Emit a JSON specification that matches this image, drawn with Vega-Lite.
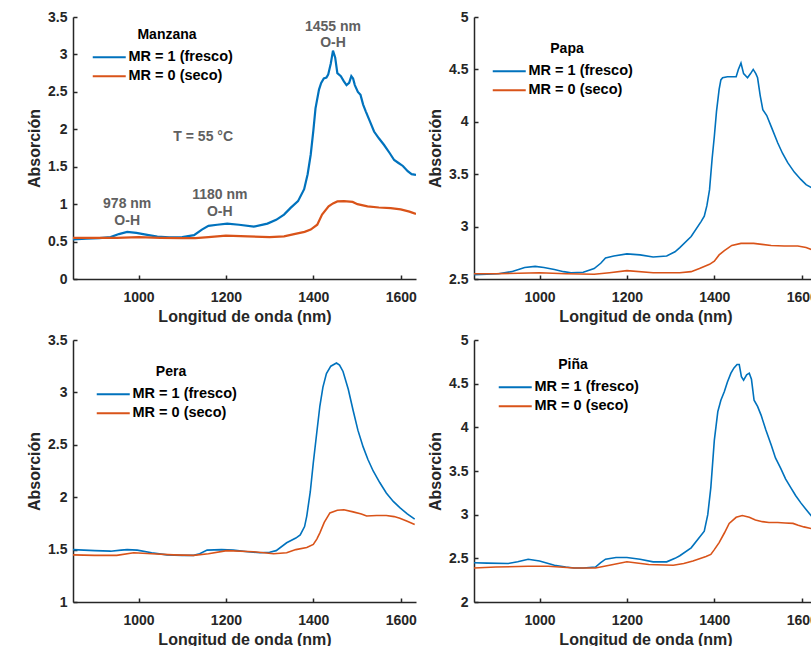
{
  "$schema": "https://vega.github.io/schema/vega-lite/v6.json",
  "background": "white",
  "padding": {"left": 26, "top": 10, "right": 0, "bottom": 0},
  "bounds": "flush",
  "spacing": {"row": 61, "column": 58},
  "columns": 2,
  "resolve": {"scale": {"color": "independent", "x": "independent", "y": "independent"}, "legend": {"color": "independent"}},
  "config": {
    "font": "Liberation Sans",
    "view": {"stroke": null},
    "axis": {
      "grid": false, "labelOverlap": false,
      "labelFont": "Liberation Sans", "labelFontWeight": "bold", "labelFontSize": 14, "labelColor": "#262626",
      "titleFont": "Liberation Sans", "titleFontWeight": "bold", "titleFontSize": 16, "titleColor": "#262626",
      "domainColor": "#262626", "domainWidth": 1.5,
      "tickColor": "#262626", "tickWidth": 1.5, "tickSize": -4
    },
    "axisX": {"labelPadding": 15, "titlePadding": 4},
    "axisY": {"labelPadding": 10, "titlePadding": 5},
    "legend": {
      "labelFont": "Liberation Sans", "labelFontWeight": "bold", "labelFontSize": 14.5, "labelColor": "#000000",
      "titleFont": "Liberation Sans", "titleFontWeight": "bold", "titleFontSize": 14, "titleColor": "#000000",
      "symbolType": "M-3,0H3", "symbolSize": 121, "symbolStrokeWidth": 2, "labelOffset": 12,
      "titleAnchor": "middle", "titleAlign": "center", "rowPadding": 4, "titlePadding": 8, "padding": 0
    }
  },
  "datasets": {
    "spectra": [
      {"fruta":"Manzana","serie":"MR = 1 (fresco)","nm":850,"abs":0.53},
      {"fruta":"Manzana","serie":"MR = 1 (fresco)","nm":880,"abs":0.54},
      {"fruta":"Manzana","serie":"MR = 1 (fresco)","nm":910,"abs":0.545},
      {"fruta":"Manzana","serie":"MR = 1 (fresco)","nm":936,"abs":0.56},
      {"fruta":"Manzana","serie":"MR = 1 (fresco)","nm":955,"abs":0.6},
      {"fruta":"Manzana","serie":"MR = 1 (fresco)","nm":974,"abs":0.63},
      {"fruta":"Manzana","serie":"MR = 1 (fresco)","nm":995,"abs":0.615},
      {"fruta":"Manzana","serie":"MR = 1 (fresco)","nm":1020,"abs":0.59},
      {"fruta":"Manzana","serie":"MR = 1 (fresco)","nm":1043,"abs":0.565},
      {"fruta":"Manzana","serie":"MR = 1 (fresco)","nm":1070,"abs":0.555},
      {"fruta":"Manzana","serie":"MR = 1 (fresco)","nm":1100,"abs":0.56},
      {"fruta":"Manzana","serie":"MR = 1 (fresco)","nm":1127,"abs":0.585},
      {"fruta":"Manzana","serie":"MR = 1 (fresco)","nm":1145,"abs":0.66},
      {"fruta":"Manzana","serie":"MR = 1 (fresco)","nm":1160,"abs":0.71},
      {"fruta":"Manzana","serie":"MR = 1 (fresco)","nm":1180,"abs":0.725},
      {"fruta":"Manzana","serie":"MR = 1 (fresco)","nm":1203,"abs":0.74},
      {"fruta":"Manzana","serie":"MR = 1 (fresco)","nm":1230,"abs":0.725},
      {"fruta":"Manzana","serie":"MR = 1 (fresco)","nm":1264,"abs":0.70},
      {"fruta":"Manzana","serie":"MR = 1 (fresco)","nm":1295,"abs":0.74},
      {"fruta":"Manzana","serie":"MR = 1 (fresco)","nm":1315,"abs":0.79},
      {"fruta":"Manzana","serie":"MR = 1 (fresco)","nm":1333,"abs":0.86},
      {"fruta":"Manzana","serie":"MR = 1 (fresco)","nm":1348,"abs":0.95},
      {"fruta":"Manzana","serie":"MR = 1 (fresco)","nm":1365,"abs":1.04},
      {"fruta":"Manzana","serie":"MR = 1 (fresco)","nm":1379,"abs":1.2},
      {"fruta":"Manzana","serie":"MR = 1 (fresco)","nm":1387,"abs":1.4},
      {"fruta":"Manzana","serie":"MR = 1 (fresco)","nm":1394,"abs":1.66},
      {"fruta":"Manzana","serie":"MR = 1 (fresco)","nm":1400,"abs":1.98},
      {"fruta":"Manzana","serie":"MR = 1 (fresco)","nm":1405,"abs":2.28},
      {"fruta":"Manzana","serie":"MR = 1 (fresco)","nm":1413,"abs":2.53},
      {"fruta":"Manzana","serie":"MR = 1 (fresco)","nm":1418,"abs":2.62},
      {"fruta":"Manzana","serie":"MR = 1 (fresco)","nm":1424,"abs":2.68},
      {"fruta":"Manzana","serie":"MR = 1 (fresco)","nm":1430,"abs":2.69},
      {"fruta":"Manzana","serie":"MR = 1 (fresco)","nm":1434,"abs":2.73},
      {"fruta":"Manzana","serie":"MR = 1 (fresco)","nm":1440,"abs":2.88},
      {"fruta":"Manzana","serie":"MR = 1 (fresco)","nm":1445,"abs":3.05},
      {"fruta":"Manzana","serie":"MR = 1 (fresco)","nm":1450,"abs":2.96},
      {"fruta":"Manzana","serie":"MR = 1 (fresco)","nm":1455,"abs":2.75},
      {"fruta":"Manzana","serie":"MR = 1 (fresco)","nm":1463,"abs":2.71},
      {"fruta":"Manzana","serie":"MR = 1 (fresco)","nm":1470,"abs":2.64},
      {"fruta":"Manzana","serie":"MR = 1 (fresco)","nm":1476,"abs":2.59},
      {"fruta":"Manzana","serie":"MR = 1 (fresco)","nm":1482,"abs":2.62},
      {"fruta":"Manzana","serie":"MR = 1 (fresco)","nm":1487,"abs":2.71},
      {"fruta":"Manzana","serie":"MR = 1 (fresco)","nm":1491,"abs":2.68},
      {"fruta":"Manzana","serie":"MR = 1 (fresco)","nm":1495,"abs":2.59},
      {"fruta":"Manzana","serie":"MR = 1 (fresco)","nm":1502,"abs":2.5},
      {"fruta":"Manzana","serie":"MR = 1 (fresco)","nm":1508,"abs":2.46},
      {"fruta":"Manzana","serie":"MR = 1 (fresco)","nm":1514,"abs":2.33},
      {"fruta":"Manzana","serie":"MR = 1 (fresco)","nm":1520,"abs":2.24},
      {"fruta":"Manzana","serie":"MR = 1 (fresco)","nm":1530,"abs":2.1},
      {"fruta":"Manzana","serie":"MR = 1 (fresco)","nm":1539,"abs":1.97},
      {"fruta":"Manzana","serie":"MR = 1 (fresco)","nm":1550,"abs":1.88},
      {"fruta":"Manzana","serie":"MR = 1 (fresco)","nm":1562,"abs":1.79},
      {"fruta":"Manzana","serie":"MR = 1 (fresco)","nm":1575,"abs":1.68},
      {"fruta":"Manzana","serie":"MR = 1 (fresco)","nm":1585,"abs":1.59},
      {"fruta":"Manzana","serie":"MR = 1 (fresco)","nm":1595,"abs":1.55},
      {"fruta":"Manzana","serie":"MR = 1 (fresco)","nm":1605,"abs":1.51},
      {"fruta":"Manzana","serie":"MR = 1 (fresco)","nm":1616,"abs":1.44},
      {"fruta":"Manzana","serie":"MR = 1 (fresco)","nm":1625,"abs":1.40},
      {"fruta":"Manzana","serie":"MR = 1 (fresco)","nm":1635,"abs":1.39},
      {"fruta":"Manzana","serie":"MR = 0 (seco)","nm":850,"abs":0.55},
      {"fruta":"Manzana","serie":"MR = 0 (seco)","nm":900,"abs":0.55},
      {"fruta":"Manzana","serie":"MR = 0 (seco)","nm":950,"abs":0.55},
      {"fruta":"Manzana","serie":"MR = 0 (seco)","nm":1000,"abs":0.56},
      {"fruta":"Manzana","serie":"MR = 0 (seco)","nm":1050,"abs":0.55},
      {"fruta":"Manzana","serie":"MR = 0 (seco)","nm":1100,"abs":0.545},
      {"fruta":"Manzana","serie":"MR = 0 (seco)","nm":1130,"abs":0.545},
      {"fruta":"Manzana","serie":"MR = 0 (seco)","nm":1160,"abs":0.56},
      {"fruta":"Manzana","serie":"MR = 0 (seco)","nm":1200,"abs":0.58},
      {"fruta":"Manzana","serie":"MR = 0 (seco)","nm":1250,"abs":0.57},
      {"fruta":"Manzana","serie":"MR = 0 (seco)","nm":1300,"abs":0.56},
      {"fruta":"Manzana","serie":"MR = 0 (seco)","nm":1333,"abs":0.57},
      {"fruta":"Manzana","serie":"MR = 0 (seco)","nm":1356,"abs":0.6},
      {"fruta":"Manzana","serie":"MR = 0 (seco)","nm":1380,"abs":0.63},
      {"fruta":"Manzana","serie":"MR = 0 (seco)","nm":1394,"abs":0.66},
      {"fruta":"Manzana","serie":"MR = 0 (seco)","nm":1409,"abs":0.725},
      {"fruta":"Manzana","serie":"MR = 0 (seco)","nm":1420,"abs":0.86},
      {"fruta":"Manzana","serie":"MR = 0 (seco)","nm":1435,"abs":0.97},
      {"fruta":"Manzana","serie":"MR = 0 (seco)","nm":1445,"abs":1.01},
      {"fruta":"Manzana","serie":"MR = 0 (seco)","nm":1455,"abs":1.036},
      {"fruta":"Manzana","serie":"MR = 0 (seco)","nm":1470,"abs":1.04},
      {"fruta":"Manzana","serie":"MR = 0 (seco)","nm":1490,"abs":1.03},
      {"fruta":"Manzana","serie":"MR = 0 (seco)","nm":1501,"abs":1.0},
      {"fruta":"Manzana","serie":"MR = 0 (seco)","nm":1524,"abs":0.97},
      {"fruta":"Manzana","serie":"MR = 0 (seco)","nm":1550,"abs":0.955},
      {"fruta":"Manzana","serie":"MR = 0 (seco)","nm":1577,"abs":0.948},
      {"fruta":"Manzana","serie":"MR = 0 (seco)","nm":1600,"abs":0.93},
      {"fruta":"Manzana","serie":"MR = 0 (seco)","nm":1620,"abs":0.9},
      {"fruta":"Manzana","serie":"MR = 0 (seco)","nm":1635,"abs":0.87},

      {"fruta":"Papa","serie":"MR = 1 (fresco)","nm":850,"abs":2.54},
      {"fruta":"Papa","serie":"MR = 1 (fresco)","nm":880,"abs":2.545},
      {"fruta":"Papa","serie":"MR = 1 (fresco)","nm":906,"abs":2.55},
      {"fruta":"Papa","serie":"MR = 1 (fresco)","nm":936,"abs":2.57},
      {"fruta":"Papa","serie":"MR = 1 (fresco)","nm":966,"abs":2.61},
      {"fruta":"Papa","serie":"MR = 1 (fresco)","nm":990,"abs":2.62},
      {"fruta":"Papa","serie":"MR = 1 (fresco)","nm":1010,"abs":2.61},
      {"fruta":"Papa","serie":"MR = 1 (fresco)","nm":1034,"abs":2.59},
      {"fruta":"Papa","serie":"MR = 1 (fresco)","nm":1055,"abs":2.57},
      {"fruta":"Papa","serie":"MR = 1 (fresco)","nm":1072,"abs":2.56},
      {"fruta":"Papa","serie":"MR = 1 (fresco)","nm":1100,"abs":2.565},
      {"fruta":"Papa","serie":"MR = 1 (fresco)","nm":1125,"abs":2.60},
      {"fruta":"Papa","serie":"MR = 1 (fresco)","nm":1140,"abs":2.65},
      {"fruta":"Papa","serie":"MR = 1 (fresco)","nm":1151,"abs":2.70},
      {"fruta":"Papa","serie":"MR = 1 (fresco)","nm":1170,"abs":2.72},
      {"fruta":"Papa","serie":"MR = 1 (fresco)","nm":1200,"abs":2.74},
      {"fruta":"Papa","serie":"MR = 1 (fresco)","nm":1230,"abs":2.73},
      {"fruta":"Papa","serie":"MR = 1 (fresco)","nm":1260,"abs":2.71},
      {"fruta":"Papa","serie":"MR = 1 (fresco)","nm":1291,"abs":2.72},
      {"fruta":"Papa","serie":"MR = 1 (fresco)","nm":1310,"abs":2.76},
      {"fruta":"Papa","serie":"MR = 1 (fresco)","nm":1321,"abs":2.80},
      {"fruta":"Papa","serie":"MR = 1 (fresco)","nm":1347,"abs":2.906},
      {"fruta":"Papa","serie":"MR = 1 (fresco)","nm":1370,"abs":3.05},
      {"fruta":"Papa","serie":"MR = 1 (fresco)","nm":1377,"abs":3.10},
      {"fruta":"Papa","serie":"MR = 1 (fresco)","nm":1383,"abs":3.2},
      {"fruta":"Papa","serie":"MR = 1 (fresco)","nm":1389,"abs":3.35},
      {"fruta":"Papa","serie":"MR = 1 (fresco)","nm":1395,"abs":3.65},
      {"fruta":"Papa","serie":"MR = 1 (fresco)","nm":1400,"abs":3.86},
      {"fruta":"Papa","serie":"MR = 1 (fresco)","nm":1405,"abs":4.1},
      {"fruta":"Papa","serie":"MR = 1 (fresco)","nm":1411,"abs":4.31},
      {"fruta":"Papa","serie":"MR = 1 (fresco)","nm":1415,"abs":4.40},
      {"fruta":"Papa","serie":"MR = 1 (fresco)","nm":1419,"abs":4.42},
      {"fruta":"Papa","serie":"MR = 1 (fresco)","nm":1430,"abs":4.43},
      {"fruta":"Papa","serie":"MR = 1 (fresco)","nm":1440,"abs":4.43},
      {"fruta":"Papa","serie":"MR = 1 (fresco)","nm":1450,"abs":4.43},
      {"fruta":"Papa","serie":"MR = 1 (fresco)","nm":1455,"abs":4.5},
      {"fruta":"Papa","serie":"MR = 1 (fresco)","nm":1461,"abs":4.56},
      {"fruta":"Papa","serie":"MR = 1 (fresco)","nm":1467,"abs":4.46},
      {"fruta":"Papa","serie":"MR = 1 (fresco)","nm":1476,"abs":4.42},
      {"fruta":"Papa","serie":"MR = 1 (fresco)","nm":1483,"abs":4.46},
      {"fruta":"Papa","serie":"MR = 1 (fresco)","nm":1489,"abs":4.50},
      {"fruta":"Papa","serie":"MR = 1 (fresco)","nm":1495,"abs":4.46},
      {"fruta":"Papa","serie":"MR = 1 (fresco)","nm":1499,"abs":4.42},
      {"fruta":"Papa","serie":"MR = 1 (fresco)","nm":1505,"abs":4.25},
      {"fruta":"Papa","serie":"MR = 1 (fresco)","nm":1511,"abs":4.115},
      {"fruta":"Papa","serie":"MR = 1 (fresco)","nm":1520,"abs":4.06},
      {"fruta":"Papa","serie":"MR = 1 (fresco)","nm":1530,"abs":3.956},
      {"fruta":"Papa","serie":"MR = 1 (fresco)","nm":1545,"abs":3.80},
      {"fruta":"Papa","serie":"MR = 1 (fresco)","nm":1556,"abs":3.7},
      {"fruta":"Papa","serie":"MR = 1 (fresco)","nm":1568,"abs":3.61},
      {"fruta":"Papa","serie":"MR = 1 (fresco)","nm":1583,"abs":3.52},
      {"fruta":"Papa","serie":"MR = 1 (fresco)","nm":1598,"abs":3.45},
      {"fruta":"Papa","serie":"MR = 1 (fresco)","nm":1610,"abs":3.40},
      {"fruta":"Papa","serie":"MR = 1 (fresco)","nm":1623,"abs":3.37},
      {"fruta":"Papa","serie":"MR = 1 (fresco)","nm":1635,"abs":3.34},
      {"fruta":"Papa","serie":"MR = 0 (seco)","nm":850,"abs":2.55},
      {"fruta":"Papa","serie":"MR = 0 (seco)","nm":900,"abs":2.55},
      {"fruta":"Papa","serie":"MR = 0 (seco)","nm":1000,"abs":2.56},
      {"fruta":"Papa","serie":"MR = 0 (seco)","nm":1060,"abs":2.55},
      {"fruta":"Papa","serie":"MR = 0 (seco)","nm":1125,"abs":2.545},
      {"fruta":"Papa","serie":"MR = 0 (seco)","nm":1160,"abs":2.56},
      {"fruta":"Papa","serie":"MR = 0 (seco)","nm":1200,"abs":2.58},
      {"fruta":"Papa","serie":"MR = 0 (seco)","nm":1260,"abs":2.56},
      {"fruta":"Papa","serie":"MR = 0 (seco)","nm":1321,"abs":2.56},
      {"fruta":"Papa","serie":"MR = 0 (seco)","nm":1347,"abs":2.57},
      {"fruta":"Papa","serie":"MR = 0 (seco)","nm":1366,"abs":2.60},
      {"fruta":"Papa","serie":"MR = 0 (seco)","nm":1389,"abs":2.64},
      {"fruta":"Papa","serie":"MR = 0 (seco)","nm":1400,"abs":2.67},
      {"fruta":"Papa","serie":"MR = 0 (seco)","nm":1411,"abs":2.73},
      {"fruta":"Papa","serie":"MR = 0 (seco)","nm":1423,"abs":2.77},
      {"fruta":"Papa","serie":"MR = 0 (seco)","nm":1440,"abs":2.82},
      {"fruta":"Papa","serie":"MR = 0 (seco)","nm":1461,"abs":2.84},
      {"fruta":"Papa","serie":"MR = 0 (seco)","nm":1490,"abs":2.84},
      {"fruta":"Papa","serie":"MR = 0 (seco)","nm":1530,"abs":2.82},
      {"fruta":"Papa","serie":"MR = 0 (seco)","nm":1560,"abs":2.815},
      {"fruta":"Papa","serie":"MR = 0 (seco)","nm":1591,"abs":2.815},
      {"fruta":"Papa","serie":"MR = 0 (seco)","nm":1610,"abs":2.8},
      {"fruta":"Papa","serie":"MR = 0 (seco)","nm":1623,"abs":2.78},
      {"fruta":"Papa","serie":"MR = 0 (seco)","nm":1635,"abs":2.76},

      {"fruta":"Pera","serie":"MR = 1 (fresco)","nm":849,"abs":1.50},
      {"fruta":"Pera","serie":"MR = 1 (fresco)","nm":900,"abs":1.49},
      {"fruta":"Pera","serie":"MR = 1 (fresco)","nm":936,"abs":1.485},
      {"fruta":"Pera","serie":"MR = 1 (fresco)","nm":960,"abs":1.495},
      {"fruta":"Pera","serie":"MR = 1 (fresco)","nm":974,"abs":1.50},
      {"fruta":"Pera","serie":"MR = 1 (fresco)","nm":997,"abs":1.495},
      {"fruta":"Pera","serie":"MR = 1 (fresco)","nm":1030,"abs":1.47},
      {"fruta":"Pera","serie":"MR = 1 (fresco)","nm":1065,"abs":1.45},
      {"fruta":"Pera","serie":"MR = 1 (fresco)","nm":1100,"abs":1.445},
      {"fruta":"Pera","serie":"MR = 1 (fresco)","nm":1126,"abs":1.445},
      {"fruta":"Pera","serie":"MR = 1 (fresco)","nm":1140,"abs":1.46},
      {"fruta":"Pera","serie":"MR = 1 (fresco)","nm":1157,"abs":1.495},
      {"fruta":"Pera","serie":"MR = 1 (fresco)","nm":1190,"abs":1.50},
      {"fruta":"Pera","serie":"MR = 1 (fresco)","nm":1217,"abs":1.495},
      {"fruta":"Pera","serie":"MR = 1 (fresco)","nm":1250,"abs":1.48},
      {"fruta":"Pera","serie":"MR = 1 (fresco)","nm":1278,"abs":1.47},
      {"fruta":"Pera","serie":"MR = 1 (fresco)","nm":1300,"abs":1.475},
      {"fruta":"Pera","serie":"MR = 1 (fresco)","nm":1315,"abs":1.49},
      {"fruta":"Pera","serie":"MR = 1 (fresco)","nm":1339,"abs":1.565},
      {"fruta":"Pera","serie":"MR = 1 (fresco)","nm":1360,"abs":1.61},
      {"fruta":"Pera","serie":"MR = 1 (fresco)","nm":1370,"abs":1.64},
      {"fruta":"Pera","serie":"MR = 1 (fresco)","nm":1380,"abs":1.72},
      {"fruta":"Pera","serie":"MR = 1 (fresco)","nm":1385,"abs":1.82},
      {"fruta":"Pera","serie":"MR = 1 (fresco)","nm":1393,"abs":2.05},
      {"fruta":"Pera","serie":"MR = 1 (fresco)","nm":1400,"abs":2.33},
      {"fruta":"Pera","serie":"MR = 1 (fresco)","nm":1408,"abs":2.62},
      {"fruta":"Pera","serie":"MR = 1 (fresco)","nm":1415,"abs":2.87},
      {"fruta":"Pera","serie":"MR = 1 (fresco)","nm":1422,"abs":3.05},
      {"fruta":"Pera","serie":"MR = 1 (fresco)","nm":1430,"abs":3.18},
      {"fruta":"Pera","serie":"MR = 1 (fresco)","nm":1440,"abs":3.25},
      {"fruta":"Pera","serie":"MR = 1 (fresco)","nm":1453,"abs":3.28},
      {"fruta":"Pera","serie":"MR = 1 (fresco)","nm":1460,"abs":3.26},
      {"fruta":"Pera","serie":"MR = 1 (fresco)","nm":1468,"abs":3.20},
      {"fruta":"Pera","serie":"MR = 1 (fresco)","nm":1480,"abs":3.03},
      {"fruta":"Pera","serie":"MR = 1 (fresco)","nm":1491,"abs":2.83},
      {"fruta":"Pera","serie":"MR = 1 (fresco)","nm":1502,"abs":2.64},
      {"fruta":"Pera","serie":"MR = 1 (fresco)","nm":1514,"abs":2.48},
      {"fruta":"Pera","serie":"MR = 1 (fresco)","nm":1525,"abs":2.36},
      {"fruta":"Pera","serie":"MR = 1 (fresco)","nm":1537,"abs":2.25},
      {"fruta":"Pera","serie":"MR = 1 (fresco)","nm":1552,"abs":2.14},
      {"fruta":"Pera","serie":"MR = 1 (fresco)","nm":1567,"abs":2.04},
      {"fruta":"Pera","serie":"MR = 1 (fresco)","nm":1583,"abs":1.96},
      {"fruta":"Pera","serie":"MR = 1 (fresco)","nm":1598,"abs":1.90},
      {"fruta":"Pera","serie":"MR = 1 (fresco)","nm":1615,"abs":1.84},
      {"fruta":"Pera","serie":"MR = 1 (fresco)","nm":1632,"abs":1.79},
      {"fruta":"Pera","serie":"MR = 0 (seco)","nm":849,"abs":1.45},
      {"fruta":"Pera","serie":"MR = 0 (seco)","nm":900,"abs":1.445},
      {"fruta":"Pera","serie":"MR = 0 (seco)","nm":950,"abs":1.445},
      {"fruta":"Pera","serie":"MR = 0 (seco)","nm":989,"abs":1.47},
      {"fruta":"Pera","serie":"MR = 0 (seco)","nm":1030,"abs":1.46},
      {"fruta":"Pera","serie":"MR = 0 (seco)","nm":1080,"abs":1.45},
      {"fruta":"Pera","serie":"MR = 0 (seco)","nm":1126,"abs":1.445},
      {"fruta":"Pera","serie":"MR = 0 (seco)","nm":1160,"abs":1.46},
      {"fruta":"Pera","serie":"MR = 0 (seco)","nm":1202,"abs":1.49},
      {"fruta":"Pera","serie":"MR = 0 (seco)","nm":1263,"abs":1.48},
      {"fruta":"Pera","serie":"MR = 0 (seco)","nm":1309,"abs":1.46},
      {"fruta":"Pera","serie":"MR = 0 (seco)","nm":1339,"abs":1.47},
      {"fruta":"Pera","serie":"MR = 0 (seco)","nm":1360,"abs":1.50},
      {"fruta":"Pera","serie":"MR = 0 (seco)","nm":1385,"abs":1.52},
      {"fruta":"Pera","serie":"MR = 0 (seco)","nm":1400,"abs":1.55},
      {"fruta":"Pera","serie":"MR = 0 (seco)","nm":1408,"abs":1.6},
      {"fruta":"Pera","serie":"MR = 0 (seco)","nm":1415,"abs":1.66},
      {"fruta":"Pera","serie":"MR = 0 (seco)","nm":1425,"abs":1.76},
      {"fruta":"Pera","serie":"MR = 0 (seco)","nm":1438,"abs":1.85},
      {"fruta":"Pera","serie":"MR = 0 (seco)","nm":1455,"abs":1.875},
      {"fruta":"Pera","serie":"MR = 0 (seco)","nm":1470,"abs":1.88},
      {"fruta":"Pera","serie":"MR = 0 (seco)","nm":1491,"abs":1.86},
      {"fruta":"Pera","serie":"MR = 0 (seco)","nm":1510,"abs":1.84},
      {"fruta":"Pera","serie":"MR = 0 (seco)","nm":1522,"abs":1.82},
      {"fruta":"Pera","serie":"MR = 0 (seco)","nm":1545,"abs":1.825},
      {"fruta":"Pera","serie":"MR = 0 (seco)","nm":1567,"abs":1.825},
      {"fruta":"Pera","serie":"MR = 0 (seco)","nm":1585,"abs":1.815},
      {"fruta":"Pera","serie":"MR = 0 (seco)","nm":1598,"abs":1.80},
      {"fruta":"Pera","serie":"MR = 0 (seco)","nm":1615,"abs":1.77},
      {"fruta":"Pera","serie":"MR = 0 (seco)","nm":1632,"abs":1.74},

      {"fruta":"Piña","serie":"MR = 1 (fresco)","nm":850,"abs":2.45},
      {"fruta":"Piña","serie":"MR = 1 (fresco)","nm":880,"abs":2.445},
      {"fruta":"Piña","serie":"MR = 1 (fresco)","nm":928,"abs":2.44},
      {"fruta":"Piña","serie":"MR = 1 (fresco)","nm":950,"abs":2.46},
      {"fruta":"Piña","serie":"MR = 1 (fresco)","nm":974,"abs":2.49},
      {"fruta":"Piña","serie":"MR = 1 (fresco)","nm":1000,"abs":2.47},
      {"fruta":"Piña","serie":"MR = 1 (fresco)","nm":1034,"abs":2.42},
      {"fruta":"Piña","serie":"MR = 1 (fresco)","nm":1060,"abs":2.40},
      {"fruta":"Piña","serie":"MR = 1 (fresco)","nm":1079,"abs":2.39},
      {"fruta":"Piña","serie":"MR = 1 (fresco)","nm":1100,"abs":2.39},
      {"fruta":"Piña","serie":"MR = 1 (fresco)","nm":1128,"abs":2.40},
      {"fruta":"Piña","serie":"MR = 1 (fresco)","nm":1140,"abs":2.45},
      {"fruta":"Piña","serie":"MR = 1 (fresco)","nm":1151,"abs":2.49},
      {"fruta":"Piña","serie":"MR = 1 (fresco)","nm":1175,"abs":2.51},
      {"fruta":"Piña","serie":"MR = 1 (fresco)","nm":1200,"abs":2.51},
      {"fruta":"Piña","serie":"MR = 1 (fresco)","nm":1230,"abs":2.49},
      {"fruta":"Piña","serie":"MR = 1 (fresco)","nm":1260,"abs":2.46},
      {"fruta":"Piña","serie":"MR = 1 (fresco)","nm":1291,"abs":2.46},
      {"fruta":"Piña","serie":"MR = 1 (fresco)","nm":1310,"abs":2.50},
      {"fruta":"Piña","serie":"MR = 1 (fresco)","nm":1321,"abs":2.53},
      {"fruta":"Piña","serie":"MR = 1 (fresco)","nm":1347,"abs":2.62},
      {"fruta":"Piña","serie":"MR = 1 (fresco)","nm":1377,"abs":2.81},
      {"fruta":"Piña","serie":"MR = 1 (fresco)","nm":1385,"abs":3.0},
      {"fruta":"Piña","serie":"MR = 1 (fresco)","nm":1392,"abs":3.31},
      {"fruta":"Piña","serie":"MR = 1 (fresco)","nm":1400,"abs":3.85},
      {"fruta":"Piña","serie":"MR = 1 (fresco)","nm":1408,"abs":4.18},
      {"fruta":"Piña","serie":"MR = 1 (fresco)","nm":1415,"abs":4.31},
      {"fruta":"Piña","serie":"MR = 1 (fresco)","nm":1423,"abs":4.41},
      {"fruta":"Piña","serie":"MR = 1 (fresco)","nm":1430,"abs":4.52},
      {"fruta":"Piña","serie":"MR = 1 (fresco)","nm":1438,"abs":4.62},
      {"fruta":"Piña","serie":"MR = 1 (fresco)","nm":1445,"abs":4.68},
      {"fruta":"Piña","serie":"MR = 1 (fresco)","nm":1452,"abs":4.72},
      {"fruta":"Piña","serie":"MR = 1 (fresco)","nm":1457,"abs":4.72},
      {"fruta":"Piña","serie":"MR = 1 (fresco)","nm":1462,"abs":4.58},
      {"fruta":"Piña","serie":"MR = 1 (fresco)","nm":1467,"abs":4.54},
      {"fruta":"Piña","serie":"MR = 1 (fresco)","nm":1474,"abs":4.6},
      {"fruta":"Piña","serie":"MR = 1 (fresco)","nm":1480,"abs":4.62},
      {"fruta":"Piña","serie":"MR = 1 (fresco)","nm":1485,"abs":4.55},
      {"fruta":"Piña","serie":"MR = 1 (fresco)","nm":1491,"abs":4.31},
      {"fruta":"Piña","serie":"MR = 1 (fresco)","nm":1499,"abs":4.24},
      {"fruta":"Piña","serie":"MR = 1 (fresco)","nm":1507,"abs":4.14},
      {"fruta":"Piña","serie":"MR = 1 (fresco)","nm":1518,"abs":3.97},
      {"fruta":"Piña","serie":"MR = 1 (fresco)","nm":1530,"abs":3.80},
      {"fruta":"Piña","serie":"MR = 1 (fresco)","nm":1540,"abs":3.65},
      {"fruta":"Piña","serie":"MR = 1 (fresco)","nm":1552,"abs":3.53},
      {"fruta":"Piña","serie":"MR = 1 (fresco)","nm":1563,"abs":3.41},
      {"fruta":"Piña","serie":"MR = 1 (fresco)","nm":1575,"abs":3.31},
      {"fruta":"Piña","serie":"MR = 1 (fresco)","nm":1586,"abs":3.22},
      {"fruta":"Piña","serie":"MR = 1 (fresco)","nm":1598,"abs":3.135},
      {"fruta":"Piña","serie":"MR = 1 (fresco)","nm":1610,"abs":3.06},
      {"fruta":"Piña","serie":"MR = 1 (fresco)","nm":1623,"abs":2.98},
      {"fruta":"Piña","serie":"MR = 1 (fresco)","nm":1635,"abs":2.93},
      {"fruta":"Piña","serie":"MR = 0 (seco)","nm":850,"abs":2.39},
      {"fruta":"Piña","serie":"MR = 0 (seco)","nm":900,"abs":2.40},
      {"fruta":"Piña","serie":"MR = 0 (seco)","nm":974,"abs":2.41},
      {"fruta":"Piña","serie":"MR = 0 (seco)","nm":1020,"abs":2.41},
      {"fruta":"Piña","serie":"MR = 0 (seco)","nm":1079,"abs":2.39},
      {"fruta":"Piña","serie":"MR = 0 (seco)","nm":1128,"abs":2.39},
      {"fruta":"Piña","serie":"MR = 0 (seco)","nm":1160,"abs":2.42},
      {"fruta":"Piña","serie":"MR = 0 (seco)","nm":1200,"abs":2.46},
      {"fruta":"Piña","serie":"MR = 0 (seco)","nm":1250,"abs":2.43},
      {"fruta":"Piña","serie":"MR = 0 (seco)","nm":1306,"abs":2.42},
      {"fruta":"Piña","serie":"MR = 0 (seco)","nm":1330,"abs":2.44},
      {"fruta":"Piña","serie":"MR = 0 (seco)","nm":1351,"abs":2.47},
      {"fruta":"Piña","serie":"MR = 0 (seco)","nm":1381,"abs":2.52},
      {"fruta":"Piña","serie":"MR = 0 (seco)","nm":1392,"abs":2.545},
      {"fruta":"Piña","serie":"MR = 0 (seco)","nm":1400,"abs":2.6},
      {"fruta":"Piña","serie":"MR = 0 (seco)","nm":1411,"abs":2.68},
      {"fruta":"Piña","serie":"MR = 0 (seco)","nm":1423,"abs":2.79},
      {"fruta":"Piña","serie":"MR = 0 (seco)","nm":1434,"abs":2.9},
      {"fruta":"Piña","serie":"MR = 0 (seco)","nm":1450,"abs":2.97},
      {"fruta":"Piña","serie":"MR = 0 (seco)","nm":1464,"abs":2.99},
      {"fruta":"Piña","serie":"MR = 0 (seco)","nm":1480,"abs":2.97},
      {"fruta":"Piña","serie":"MR = 0 (seco)","nm":1494,"abs":2.94},
      {"fruta":"Piña","serie":"MR = 0 (seco)","nm":1510,"abs":2.92},
      {"fruta":"Piña","serie":"MR = 0 (seco)","nm":1525,"abs":2.91},
      {"fruta":"Piña","serie":"MR = 0 (seco)","nm":1545,"abs":2.91},
      {"fruta":"Piña","serie":"MR = 0 (seco)","nm":1562,"abs":2.905},
      {"fruta":"Piña","serie":"MR = 0 (seco)","nm":1580,"abs":2.9},
      {"fruta":"Piña","serie":"MR = 0 (seco)","nm":1592,"abs":2.88},
      {"fruta":"Piña","serie":"MR = 0 (seco)","nm":1605,"abs":2.86},
      {"fruta":"Piña","serie":"MR = 0 (seco)","nm":1623,"abs":2.84},
      {"fruta":"Piña","serie":"MR = 0 (seco)","nm":1635,"abs":2.82}
    ],
    "notas": [
      {"nm":1445,"abs":3.373,"label":"1455 nm"},
      {"nm":1445,"abs":3.151,"label":"O-H"},
      {"nm":974,"abs":1.005,"label":"978 nm"},
      {"nm":974,"abs":0.77,"label":"O-H"},
      {"nm":1186,"abs":1.125,"label":"1180 nm"},
      {"nm":1186,"abs":0.89,"label":"O-H"},
      {"nm":1148,"abs":1.896,"label":"T = 55 °C"}
    ]
  },
  "concat": [
    {
      "width": 343, "height": 262,
      "encoding": {
        "x": {"field": "nm", "type": "quantitative", "scale": {"domain": [850, 1635], "nice": false, "zero": false}, "axis": {"title": "Longitud de onda (nm)", "values": [1000, 1200, 1400, 1600], "format": "d"}},
        "y": {"field": "abs", "type": "quantitative", "scale": {"domain": [0, 3.5], "nice": false, "zero": false}, "axis": {"title": "Absorción", "values": [0, 0.5, 1, 1.5, 2, 2.5, 3, 3.5], "format": "~g", "tickCount": 8}}
      },
      "layer": [
        {
          "data": {"name": "spectra"},
          "transform": [{"filter": "datum.fruta === 'Manzana'"}],
          "mark": {"type": "line", "strokeWidth": 2.2, "clip": true},
          "encoding": {
            "color": {"field": "serie", "type": "nominal", "scale": {"domain": ["MR = 1 (fresco)", "MR = 0 (seco)"], "range": ["#0072BD", "#D95319"]}, "legend": {"title": "Manzana", "orient": "none", "legendX": 29, "legendY": 11}},
            "order": {"field": "nm", "type": "quantitative"}
          }
        },
        {
          "data": {"name": "notas"},
          "mark": {"type": "text", "font": "Liberation Sans", "fontWeight": "bold", "fontSize": 14, "color": "#606060", "align": "center", "baseline": "middle"},
          "encoding": {
            "text": {"field": "label"}
          }
        }
      ]
    },
    {
      "width": 343, "height": 262,
      "data": {"name": "spectra"},
      "transform": [{"filter": "datum.fruta === 'Papa'"}],
      "mark": {"type": "line", "strokeWidth": 1.6, "clip": true},
      "encoding": {
        "x": {"field": "nm", "type": "quantitative", "scale": {"domain": [850, 1635], "nice": false, "zero": false}, "axis": {"title": "Longitud de onda (nm)", "values": [1000, 1200, 1400, 1600], "format": "d"}},
        "y": {"field": "abs", "type": "quantitative", "scale": {"domain": [2.5, 5], "nice": false, "zero": false}, "axis": {"title": "Absorción", "values": [2.5, 3, 3.5, 4, 4.5, 5], "format": "~g"}},
        "color": {"field": "serie", "type": "nominal", "scale": {"domain": ["MR = 1 (fresco)", "MR = 0 (seco)"], "range": ["#0072BD", "#D95319"]}, "legend": {"title": "Papa", "orient": "none", "legendX": 28, "legendY": 25}},
        "order": {"field": "nm", "type": "quantitative"}
      }
    },
    {
      "width": 343, "height": 262,
      "data": {"name": "spectra"},
      "transform": [{"filter": "datum.fruta === 'Pera'"}],
      "mark": {"type": "line", "strokeWidth": 1.6, "clip": true},
      "encoding": {
        "x": {"field": "nm", "type": "quantitative", "scale": {"domain": [850, 1635], "nice": false, "zero": false}, "axis": {"title": "Longitud de onda (nm)", "values": [1000, 1200, 1400, 1600], "format": "d"}},
        "y": {"field": "abs", "type": "quantitative", "scale": {"domain": [1, 3.5], "nice": false, "zero": false}, "axis": {"title": "Absorción", "values": [1, 1.5, 2, 2.5, 3, 3.5], "format": "~g"}},
        "color": {"field": "serie", "type": "nominal", "scale": {"domain": ["MR = 1 (fresco)", "MR = 0 (seco)"], "range": ["#0072BD", "#D95319"]}, "legend": {"title": "Pera", "orient": "none", "legendX": 33, "legendY": 25}},
        "order": {"field": "nm", "type": "quantitative"}
      }
    },
    {
      "width": 343, "height": 262,
      "data": {"name": "spectra"},
      "transform": [{"filter": "datum.fruta === 'Piña'"}],
      "mark": {"type": "line", "strokeWidth": 1.6, "clip": true},
      "encoding": {
        "x": {"field": "nm", "type": "quantitative", "scale": {"domain": [850, 1635], "nice": false, "zero": false}, "axis": {"title": "Longitud de onda (nm)", "values": [1000, 1200, 1400, 1600], "format": "d"}},
        "y": {"field": "abs", "type": "quantitative", "scale": {"domain": [2, 5], "nice": false, "zero": false}, "axis": {"title": "Absorción", "values": [2, 2.5, 3, 3.5, 4, 4.5, 5], "format": "~g"}},
        "color": {"field": "serie", "type": "nominal", "scale": {"domain": ["MR = 1 (fresco)", "MR = 0 (seco)"], "range": ["#0072BD", "#D95319"]}, "legend": {"title": "Piña", "orient": "none", "legendX": 34, "legendY": 18}},
        "order": {"field": "nm", "type": "quantitative"}
      }
    }
  ]
}
